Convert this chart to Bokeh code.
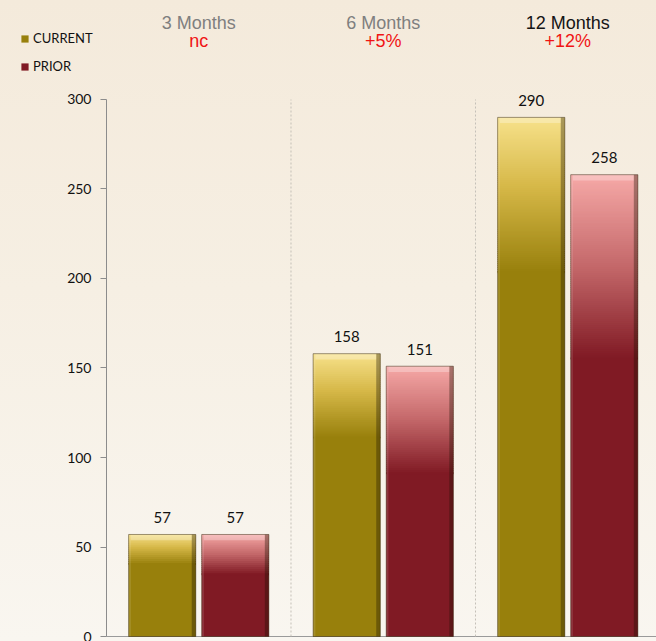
from bokeh.plotting import figure
from bokeh.models import Legend, LegendItem, Range1d, FixedTicker, ColumnDataSource
from bokeh.core.properties import value
from bokeh.embed import file_html
from bokeh.resources import INLINE

# ---------------- data ----------------
periods = ["3 Months", "6 Months", "12 Months"]
changes = ["nc", "+5%", "+12%"]
current = [57, 158, 290]
prior = [57, 151, 258]
y_ticks = [0, 50, 100, 150, 200, 250, 300]
series_names = ["CURRENT", "PRIOR"]

# ---------------- styles ----------------
period_colors = ["#7f7f7f", "#7f7f7f", "#151515"]
change_color = "#f01414"
gold_stops = [(0.0, (248, 226, 140)), (0.45, (214, 184, 72)), (1.0, (152, 128, 12))]
maroon_stops = [(0.0, (247, 170, 168)), (0.5, (196, 104, 106)), (1.0, (128, 26, 36))]
gold_frac, maroon_frac = 0.30, 0.40
bar_w = 0.364
offset = 0.198
PX_PER_UNIT = 641 / 358.09


def grad_color(stops, t):
    for (t0, c0), (t1, c1) in zip(stops[:-1], stops[1:]):
        if t <= t1:
            u = (t - t0) / (t1 - t0) if t1 > t0 else 0
            c = [int(round(a + (b - a) * u)) for a, b in zip(c0, c1)]
            return "#%02x%02x%02x" % tuple(c)
    return "#%02x%02x%02x" % stops[-1][1]


W, H = 656, 641
n = len(periods)
ymax = max(y_ticks)
p = figure(width=W, height=H, output_backend="svg", toolbar_location=None,
           x_range=Range1d(-0.5745, 2.981), y_range=Range1d(-2.79, 355.3),
           min_border_left=0, min_border_right=0, min_border_top=0, min_border_bottom=0)
p.background_fill_alpha = 0
p.border_fill_alpha = 0
p.outline_line_color = None
p.grid.visible = False
p.xaxis.visible = False

ya = p.yaxis[0]
ya.fixed_location = 0
ya.bounds = (0, ymax)
ya.ticker = FixedTicker(ticks=y_ticks)
ya.axis_line_color = "#8c8c8c"
ya.major_tick_line_color = "#8c8c8c"
ya.major_tick_out = 6
ya.major_tick_in = 0
ya.minor_tick_line_color = None
ya.major_label_text_font = "Lato"
ya.major_label_text_font_size = "14px"
ya.major_label_text_color = "#111111"
ya.major_label_standoff = 9

# bottom axis line
p.segment(x0=[0], y0=[0], x1=[n], y1=[0], line_color="#9a9a9a", line_width=1)

# separators between groups
seps = list(range(1, n))
p.segment(x0=seps, y0=[0] * len(seps), x1=seps, y1=[ymax] * len(seps),
          line_color="#c4c0b8", line_width=1, line_dash="2 2")


def draw_series(vals, xoff, stops, frac):
    lefts, rights, bots, tops, cols = [], [], [], [], []
    centers = [i + 0.5 + xoff for i in range(len(vals))]
    dark = "#%02x%02x%02x" % stops[-1][1]
    # solid lower part first, gradient slices on top
    solid = p.quad(left=[c - bar_w / 2 for c in centers], right=[c + bar_w / 2 for c in centers],
                   bottom=[0] * len(vals), top=[v * (1 - frac) + 1.0 for v in vals],
                   fill_color=dark, line_color=None)
    for c, v in zip(centers, vals):
        nsl = max(6, int(v * frac * PX_PER_UNIT / 2.0))
        for k in range(nsl):
            t0 = k / nsl
            t1 = min((k + 1.5) / nsl, 1.0)
            lefts.append(c - bar_w / 2)
            rights.append(c + bar_w / 2)
            tops.append(v * (1 - frac * t0))
            bots.append(v * (1 - frac * t1))
            cols.append(grad_color(stops, (k + 1.0) / nsl))
    src = ColumnDataSource(dict(left=lefts, right=rights, bottom=bots, top=tops, color=cols))
    p.quad(left="left", right="right", bottom="bottom", top="top", fill_color="color",
           line_color=None, source=src)
    # bevel: dark right edge, light left edge, top highlight, outline
    p.quad(left=[c + bar_w / 2 - 0.022 for c in centers], right=[c + bar_w / 2 for c in centers],
           bottom=[0] * len(vals), top=vals, fill_color="#1a1000", fill_alpha=0.35, line_color=None)
    p.quad(left=[c - bar_w / 2 for c in centers], right=[c - bar_w / 2 + 0.012 for c in centers],
           bottom=[0] * len(vals), top=vals, fill_color="#ffffff", fill_alpha=0.12, line_color=None)
    p.quad(left=[c - bar_w / 2 + 0.012 for c in centers], right=[c + bar_w / 2 - 0.022 for c in centers],
           bottom=[v - 3.2 for v in vals], top=vals, fill_color="#ffffff", fill_alpha=0.28, line_color=None)
    p.quad(left=[c - bar_w / 2 for c in centers], right=[c + bar_w / 2 for c in centers],
           bottom=[0] * len(vals), top=vals, fill_alpha=0, line_color="#2a1a00", line_alpha=0.45,
           line_width=1)
    p.text(x=centers, y=vals, text=[str(v) for v in vals], text_align="center",
           text_baseline="alphabetic", y_offset=-17, text_font_size="15px",
           text_font=value("Lato"), text_color="#111111")
    return solid


r_cur = draw_series(current, -offset, gold_stops, gold_frac)
r_pri = draw_series(prior, offset, maroon_stops, maroon_frac)

# group headers
gx = [i + 0.5 for i in range(n)]
p.text(x=gx, y=[343.0] * n, text=periods, text_align="center", text_baseline="alphabetic",
       text_font=value("Liberation Sans"), text_font_size="18px", text_color=period_colors)
p.text(x=gx, y=[332.4] * n, text=changes, text_align="center", text_baseline="alphabetic",
       text_font=value("Liberation Sans"), text_font_size="18px", text_color=change_color)

legend = Legend(items=[LegendItem(label=series_names[0], renderers=[r_cur]),
                       LegendItem(label=series_names[1], renderers=[r_pri])],
                location=(20, 566), orientation="vertical")
legend.background_fill_alpha = 0
legend.border_line_color = None
legend.padding = 0
legend.margin = 0
legend.spacing = 10
legend.label_height = 18
legend.glyph_width = 9
legend.glyph_height = 9
legend.label_standoff = 4
legend.label_text_font = "Lato"
legend.label_text_font_size = "13px"
legend.label_text_color = "#111111"
p.add_layout(legend, "center")

html = file_html(p, INLINE)
css = ("<style>html{background:linear-gradient(to bottom,#f4eadb 0%,#f6efe3 45%,#f9f6f0 100%);"
       "min-height:100%;}body{background:transparent;}</style></head>")
html = html.replace("</head>", css, 1)
open("out.html", "w").write(html)
